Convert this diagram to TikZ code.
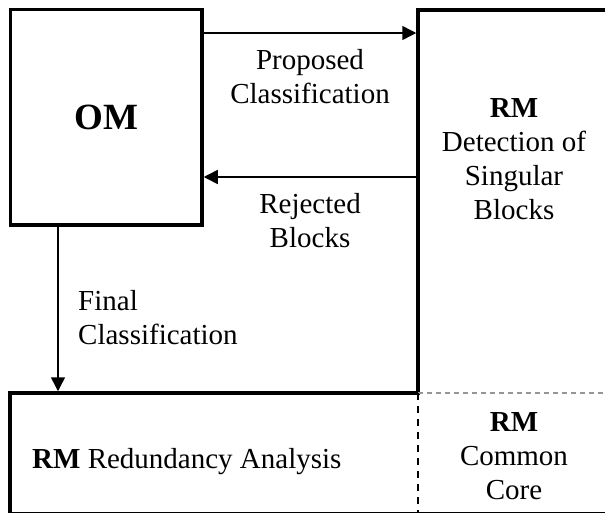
\documentclass[tikz,border=0pt]{standalone}
\usepackage{fontspec}
\setmainfont{Liberation Serif}
\usetikzlibrary{arrows.meta,positioning}
\definecolor{blockink}{RGB}{0,0,0}
\definecolor{blockgrey}{RGB}{150,150,150}
\tikzset{
  blockbox/.style={rectangle, line width=3.5pt, outer sep=0pt, inner sep=0pt},
  blockline/.style={draw=blockink, line width=3.5pt, line cap=rect, line join=miter},
  blocksplit/.style={draw=blockink, line width=1.4pt, dash pattern=on 7pt off 6pt},
  blockseam/.style={draw=blockgrey, line width=1.2pt, dash pattern=on 5pt off 4pt},
  flowarrow/.style={-{Triangle[length=14pt,width=14pt]}, line width=1.5pt,
    blockink, shorten >=1.75pt},
  flowlabel/.style={inner sep=0pt, align=center,
    font=\fontsize{29}{34}\selectfont},
}

\begin{document}
\begin{tikzpicture}[x=1pt,y=-1pt]
  \useasboundingbox (0,0) rectangle (605,512);
  \clip (0,0) rectangle (605,512);
  \node[blockbox, draw=blockink, minimum width=191.5pt, minimum height=215.5pt,
    font=\bfseries\fontsize{37}{40}\selectfont] (om) at (106.25,117.25) {OM};
  \node[blockbox, minimum width=194pt, minimum height=383pt] (rm) at (515,201.5) {};
  \node[blockbox, minimum width=408pt, minimum height=121pt] (red) at (214,453.5) {};
  \node[blockbox, minimum width=194pt, minimum height=121pt] (core) at (515,453.5) {};
  \draw[blockline] (rm.south west) -- (rm.north west) -- (rm.north east) -- (rm.south east);
  \draw[blockline] (red.north east) -- (red.north west) -- (red.south west) -- (red.south east);
  \draw[blockline] (core.south west) -- (core.south east);
  \draw[blockseam] (core.north west) -- (core.north east);
  \draw[blocksplit] (red.north east) -- (red.south east);
  \draw[flowarrow] ([yshift=-23.5pt]om.north east) -- ([yshift=-23.5pt]om.north east -| rm.west);
  \draw[flowarrow] ([yshift=-167pt]rm.north west) -- ([yshift=-167pt]rm.north west -| om.east);
  \draw[flowarrow] ([xshift=47.5pt]om.south west) -- ([xshift=47.5pt]om.south west |- red.north);
  \node[flowlabel] (prop) at (310,77) {Proposed\\Classification};
  \node[flowlabel] (rej) at (310,221) {Rejected\\Blocks};
  \node[flowlabel, anchor=west, align=left] (final) at (78,318) {Final\\Classification};
  \node[flowlabel] (detect) at (514,159) {\textbf{RM}\\Detection of\\Singular\\Blocks};
  \node[flowlabel] (corelbl) at (514,456) {\textbf{RM}\\Common\\Core};
  \node[flowlabel, anchor=base west] (redlbl) at (32,468) {\textbf{RM} Redundancy Analysis};
\end{tikzpicture}
\end{document}
